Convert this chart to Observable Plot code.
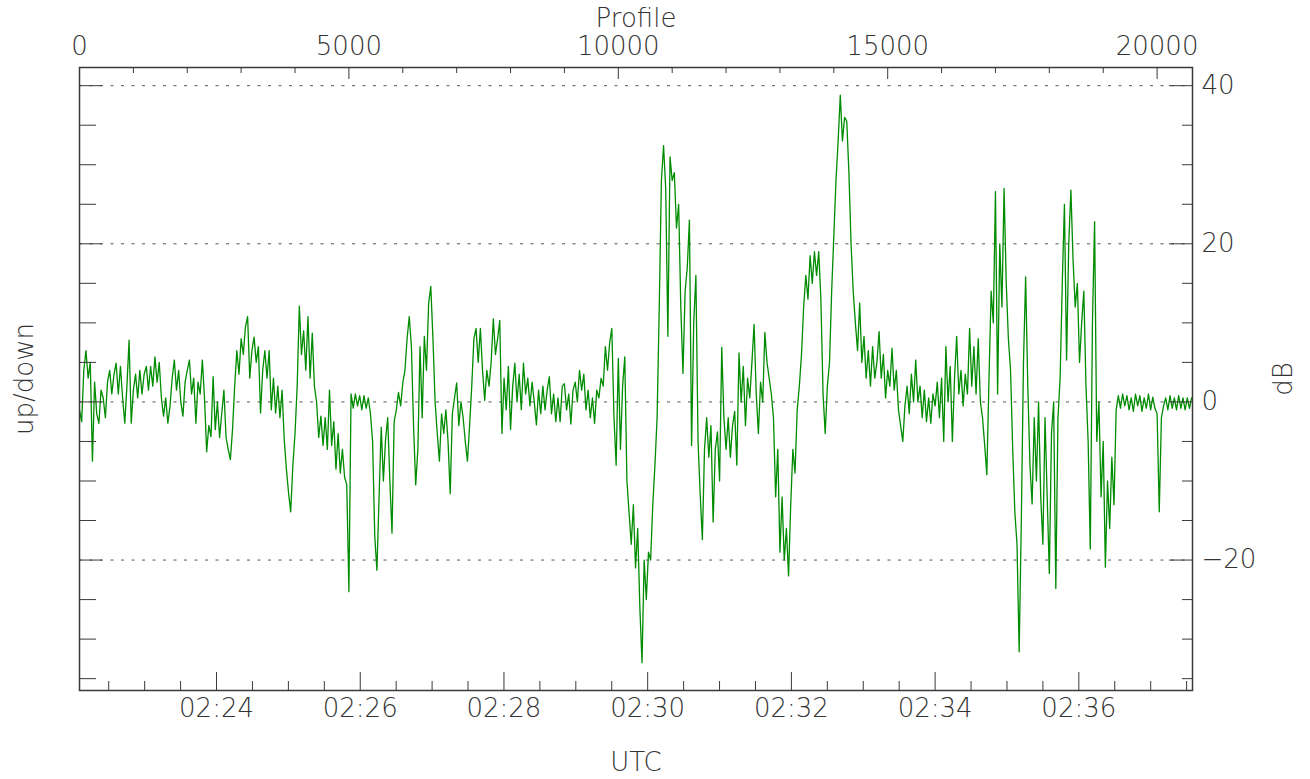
<!DOCTYPE html>
<html><head><meta charset="utf-8">
<script src="https://cdn.jsdelivr.net/npm/d3@7"></script>
<script src="https://cdn.jsdelivr.net/npm/@observablehq/plot@0.6"></script>
<style>html,body{margin:0;padding:0;background:#fff}</style>
</head><body><div id="chart"></div>
<script>
// Profile numbers of the samples
const profile = [
0,40,80,120,160,200,240,280,320,360,400,440,480,520,560,600,640,680,720,760,
800,840,880,920,960,1000,1040,1080,1120,1160,1200,1240,1280,1320,1360,1400,1440,1480,1520,1560,
1600,1640,1680,1720,1760,1800,1840,1880,1920,1960,2000,2040,2080,2120,2160,2200,2240,2280,2320,2360,
2400,2440,2480,2520,2560,2600,2640,2680,2720,2760,2800,2840,2880,2920,2960,3000,3040,3080,3120,3160,
3200,3240,3280,3320,3360,3400,3440,3480,3520,3560,3600,3640,3680,3720,3760,3800,3840,3880,3920,3960,
4000,4040,4080,4120,4160,4200,4240,4280,4320,4360,4400,4440,4480,4520,4560,4600,4640,4680,4720,4760,
4800,4840,4880,4920,4960,5000,5040,5080,5120,5160,5200,5240,5280,5320,5360,5400,5440,5480,5520,5560,
5600,5640,5680,5720,5760,5800,5840,5880,5920,5960,6000,6040,6080,6120,6160,6200,6240,6280,6320,6360,
6400,6440,6480,6520,6560,6600,6640,6680,6720,6760,6800,6840,6880,6920,6960,7000,7040,7080,7120,7160,
7200,7240,7280,7320,7360,7400,7440,7480,7520,7560,7600,7640,7680,7720,7760,7800,7840,7880,7920,7960,
8000,8040,8080,8120,8160,8200,8240,8280,8320,8360,8400,8440,8480,8520,8560,8600,8640,8680,8720,8760,
8800,8840,8880,8920,8960,9000,9040,9080,9120,9160,9200,9240,9280,9320,9360,9400,9440,9480,9520,9560,
9600,9640,9680,9720,9760,9800,9840,9880,9920,9960,10000,10040,10080,10120,10160,10200,10240,10280,10320,10360,
10400,10440,10480,10520,10560,10600,10640,10680,10720,10760,10800,10840,10880,10920,10960,11000,11040,11080,11120,11160,
11200,11240,11280,11320,11360,11400,11440,11480,11520,11560,11600,11640,11680,11720,11760,11800,11840,11880,11920,11960,
12000,12040,12080,12120,12160,12200,12240,12280,12320,12360,12400,12440,12480,12520,12560,12600,12640,12680,12720,12760,
12800,12840,12880,12920,12960,13000,13040,13080,13120,13160,13200,13240,13280,13320,13360,13400,13440,13480,13520,13560,
13600,13640,13680,13720,13760,13800,13840,13880,13920,13960,14000,14040,14080,14120,14160,14200,14240,14280,14320,14360,
14400,14440,14480,14520,14560,14600,14640,14680,14720,14760,14800,14840,14880,14920,14960,15000,15040,15080,15120,15160,
15200,15240,15280,15320,15360,15400,15440,15480,15520,15560,15600,15640,15680,15720,15760,15800,15840,15880,15920,15960,
16000,16040,16080,16120,16160,16200,16240,16280,16320,16360,16400,16440,16480,16520,16560,16600,16640,16680,16720,16760,
16800,16840,16880,16920,16960,17000,17040,17080,17120,17160,17200,17240,17280,17320,17360,17400,17440,17480,17520,17560,
17600,17640,17680,17720,17760,17800,17840,17880,17920,17960,18000,18040,18080,18120,18160,18200,18240,18280,18320,18360,
18400,18440,18480,18520,18560,18600,18640,18680,18720,18760,18800,18840,18880,18920,18960,19000,19040,19080,19120,19160,
19200,19240,19280,19320,19360,19400,19440,19480,19520,19560,19600,19640,19680,19720,19760,19800,19840,19880,19920,19960,
20000,20040,20080,20120,20160,20200,20240,20280,20320,20360,20400,20440,20480,20520,20560,20600,20640
];
// up/down ratio in dB
const updown = [
-1,-2.5,4,6.5,3,5,-7.5,2.5,-1.5,-2.7,
1.5,0.5,-2,2.5,4,1,3.5,4.9,1,4.5,
0.5,-2.7,2,7.8,-2.7,1.5,3.5,0.5,4,1,
3.5,4.5,1.5,4.5,2,5.7,2.5,5,0.5,-1.8,
0.5,-2.7,-0.5,3,5.3,1.5,4,0,-1.8,2.5,
4,5.3,1,3,-2.7,2.5,1,5.3,0.5,-6.3,
-3,-4.4,3.2,-3.5,0,-4.5,-1.5,1.5,-4.5,-6,
-7.3,-3.5,2,6.5,3.5,8,6,9.5,10.8,3,
6.5,8.2,5,7,-1.4,4,6.5,3,6.5,-1,
3,-1.4,2,-2,1.5,-4.8,-8.5,-11.5,-13.9,-8,
-4,2,12.1,6,9,4,10.8,3,8.7,2,
0,-4.5,-1.8,-5.5,-2,-6,1.5,-5.5,-2.5,-8.5,
-4,-9,-6,-9.5,-10.5,-24,1,-0.8,1,-0.5,
0.8,-1,0.8,-0.8,0.5,-1.5,-5,-17,-21.3,-12,
-3.2,-10,-4.8,-2,-10,-16.6,-2.5,-1,1.2,-0.5,
2.4,4,8,10.8,7,-3,-10.5,-6,7,-2,
8.3,4,12.5,14.6,8,0,-4,-7.5,-1.5,-4,
-1,-5,-11.6,-1.5,0.5,2.4,-3,0,-2,-5,
-7.5,-3,2,8,9.3,5,9.3,4,0.2,4,
2,5,10.5,6,8,10.3,-4,3,-1,4.5,
-3.5,2,4.9,0,3.5,-1,4.9,1,3,-0.5,
2.5,0,-2.9,1.5,-1.5,2,-1,1.5,3.2,-1.5,
1,-2.5,0.5,-2.5,2,2.3,-1,1,-2.8,1.5,
2.5,0,4,1.5,3.5,-1,1.5,-2,0.5,-2.7,
1.5,0.5,3,2,7,4,7.5,9.3,-2,-8,
5.5,-6,2,5.7,-10,-14,-18,-13,-21,-16,
-26,-33,-20,-25,-19,-20,-13,-8,-2,12,
28,32.4,27,8.3,31,28,29,22,25,12,
3.6,14,17,23,-5.5,10,16,-5,-11.7,-17.4,
-6,-2,-7,-3,-15.2,-6,-3.8,-10,6.9,-2,
-6,-2,-7,-3,-1.2,-8,6.2,0,4.5,-3,
3,0.5,5,9.8,1,-4,2.5,0,8.8,5,
3,1,-2,-12,-6,-19,-12,-20,-16,-22,
-13,-6,-9,-1,2,6,12,16,13,18.5,
15,19,16,19,13,1,-4,2,5,14,
21,28,33,38.8,33,36,35.5,29,20,14,
10,6.5,12.5,5,8.3,3,6.5,2,7,3,
5,8.9,3,6,0.5,4,2,6.8,1.5,4,
-1,-3,-5,-0.5,2,-1.5,3.5,0,5.3,0,
2,-2,1.5,-2.5,0.5,-2.7,1,-0.5,2.5,-2,
3,-5,7,0,4.5,-5,3,8.3,1,4,
-0.5,3.5,1,9.3,2,7,1,8,0,-2,
-5.5,-9.2,3,14,10,26.6,1,20,12,27,
15,8,4,-6,-14,-18,-31.6,-15,5,15.8,
2,-8,-12.9,-2,-10,0,-12,-18,-2,-12,
-21.7,-4,0,-23.6,-2,3,15,25,5.3,20,
26.8,18,12,15,5,10,14,2,-5,-18.6,
10,22.8,-5,0,-12,-5,-20.9,-10,-16,-7,
-13,-1,0.8,-0.8,1,-0.5,0.8,-1,0.5,-1.2,
1,-0.5,0.8,-1.2,0.5,-0.8,1,-1,0.6,-0.8,
-1.5,-13.9,-2,-0.5,0.5,-1,0.8,-0.8,0.5,-1,
0.8,-0.8,0.5,-1,0.5,-0.8,0.5
];

// Axis ticks
const profileMajor = [0, 5000, 10000, 15000, 20000];
const profileMajorLabels = ["0", "5000", "10000", "15000", "20000"];
const profileMinor = [1000,2000,3000,4000,6000,7000,8000,9000,11000,12000,13000,14000,16000,17000,18000,19000];
// UTC ticks, in minutes after 02:00
const timeMajor = [24, 26, 28, 30, 32, 34, 36];
const timeMajorLabels = ["02:24", "02:26", "02:28", "02:30", "02:32", "02:34", "02:36"];
const timeMinor = [22.5,23,23.5,24.5,25,25.5,26.5,27,27.5,28.5,29,29.5,30.5,31,31.5,32.5,33,33.5,34.5,35,35.5,36.5,37,37.5];
// profile number at 02:24:00 and profiles per minute
const profileAt0224 = 2543;
const profilesPerMinute = 1333.7;
const dbMajor = [40, 20, 0, -20];
const dbMajorLabels = ["40", "20", "0", "\u221220"];
const dbMinor = [35,30,25,15,10,5,-5,-10,-15,-25,-30,-35];

const W = 1310, H = 779;
const mL = 79, mR = 118, mT = 67, mB = 89;
const iW = W - mL - mR, iH = H - mT - mB;

const toProfile = m => profileAt0224 + (m - 24) * profilesPerMinute;
const data = profile.map((p, i) => ({p, v: updown[i]}));
const ink = "#3a3a3a";
const font = {fontSize: 26, fontWeight: 200, fill: "#333"};

const chart = Plot.plot({
  width: W, height: H,
  marginLeft: mL, marginRight: mR, marginTop: mT, marginBottom: mB,
  style: {fontFamily: "DejaVu Sans, sans-serif", background: "#fff"},
  x: {domain: [0, 20657], axis: null},
  y: {domain: [-36.5, 42.3], axis: null},
  marks: [
    Plot.ruleY(dbMajor, {y: d => d, stroke: "#555", strokeDasharray: "3,7.5", strokeWidth: 1}),
    Plot.line(data, {x: "p", y: "v", stroke: "#008c00", strokeWidth: 1.3}),
    // top ticks (profile)
    Plot.tickX(profileMinor, {x: d => d, insetBottom: iH - 6, stroke: ink}),
    Plot.tickX(profileMajor, {x: d => d, insetBottom: iH - 12, stroke: ink}),
    // bottom ticks (UTC)
    Plot.tickX(timeMinor, {x: toProfile, insetTop: iH - 9, stroke: ink}),
    Plot.tickX(timeMajor, {x: toProfile, insetTop: iH - 18, stroke: ink}),
    // left ticks
    Plot.tickY(dbMinor, {y: d => d, insetRight: iW - 17, stroke: ink}),
    Plot.tickY(dbMajor, {y: d => d, insetRight: iW - 23, stroke: ink}),
    // right ticks
    Plot.tickY(dbMinor, {y: d => d, insetLeft: iW - 10, stroke: ink}),
    Plot.tickY(dbMajor, {y: d => d, insetLeft: iW - 23, stroke: ink}),
    Plot.frame({stroke: ink, strokeWidth: 1.5}),
    // tick labels
    Plot.text(profileMajor, {x: d => d, text: (d, i) => profileMajorLabels[i], frameAnchor: "top", dy: -21, lineAnchor: "middle", ...font}),
    Plot.text(timeMajor, {x: toProfile, text: (d, i) => timeMajorLabels[i], frameAnchor: "bottom", dy: 18, lineAnchor: "middle", ...font}),
    Plot.text(dbMajor, {y: d => d, text: (d, i) => dbMajorLabels[i], frameAnchor: "right", dx: 9, textAnchor: "start", lineAnchor: "middle", ...font}),
    // axis titles
    Plot.text(["Profile"], {frameAnchor: "top", dy: -49, lineAnchor: "middle", ...font}),
    Plot.text(["UTC"], {frameAnchor: "bottom", dy: 72, lineAnchor: "middle", ...font}),
    Plot.text(["up/down"], {frameAnchor: "left", dx: -55, rotate: -90, textAnchor: "middle", lineAnchor: "middle", ...font}),
    Plot.text(["dB"], {frameAnchor: "right", dx: 91, rotate: -90, textAnchor: "middle", lineAnchor: "middle", ...font})
  ]
});
document.getElementById("chart").appendChild(chart);
</script>
</body></html>
